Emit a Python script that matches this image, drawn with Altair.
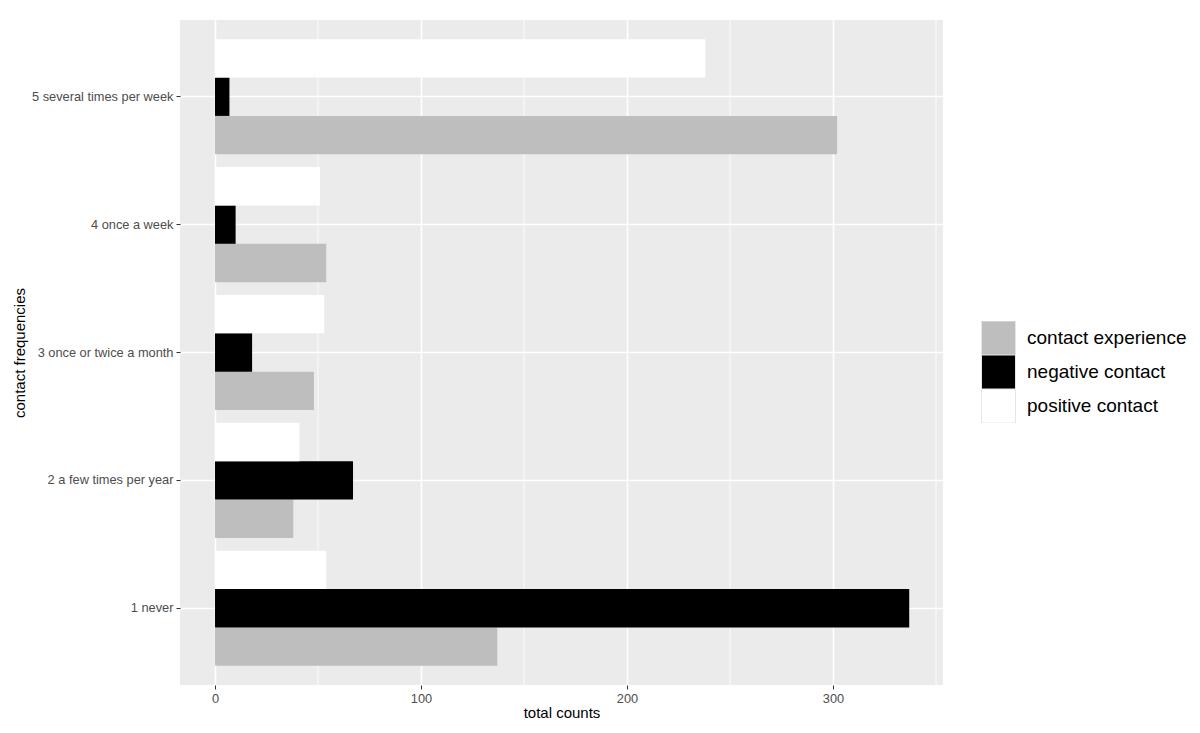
import altair as alt
import pandas as pd

categories = ["5 several times per week", "4 once a week", "3 once or twice a month",
              "2 a few times per year", "1 never"]
series = ["contact experience", "negative contact", "positive contact"]
experience = [302, 54, 48, 38, 137]
negative = [7, 10, 18, 67, 337]
positive = [238, 51, 53, 41, 54]
major_ticks = [0, 100, 200, 300]
minor_ticks = [50, 150, 250, 350]

rows = []
for i, c in enumerate(categories):
    rows.append({"freq": c, "type": "contact experience", "count": experience[i]})
    rows.append({"freq": c, "type": "negative contact", "count": negative[i]})
    rows.append({"freq": c, "type": "positive contact", "count": positive[i]})
df = pd.DataFrame(rows)
minor_df = pd.DataFrame({"v": minor_ticks})

FONT = "Liberation Sans"
xscale = alt.Scale(domain=[-17.0, 353.4], nice=False, zero=False)

minor = alt.Chart(minor_df).mark_rule(color="white", strokeWidth=0.8).encode(
    x=alt.X("v:Q", scale=xscale)
)

bars = alt.Chart(df).mark_bar().encode(
    x=alt.X("count:Q", scale=xscale, title="total counts",
            axis=alt.Axis(values=major_ticks, grid=True, gridColor="white", gridWidth=1.6,
                          domain=False, tickColor="#333333", tickSize=4, tickWidth=1,
                          labelColor="#4D4D4D", labelFontSize=12.8, labelFont=FONT,
                          labelPadding=3, titleFont=FONT, titleFontSize=15,
                          titleFontWeight="normal", titleColor="black", titlePadding=1)),
    y=alt.Y("freq:N", sort=categories, title="contact frequencies",
            scale=alt.Scale(paddingInner=0.1, paddingOuter=0.15),
            axis=alt.Axis(grid=True, gridColor="white", gridWidth=1.6, bandPosition=0.5,
                          domain=False, tickColor="#333333", tickSize=4, tickWidth=1,
                          labelColor="#4D4D4D", labelFontSize=12.8, labelFont=FONT,
                          labelPadding=3, titleFont=FONT, titleFontSize=15,
                          titleFontWeight="normal", titleColor="black", titlePadding=4)),
    yOffset=alt.YOffset("type:N", sort=["positive contact", "negative contact", "contact experience"],
                        scale=alt.Scale(paddingInner=0, paddingOuter=0)),
    color=alt.Color("type:N", title=None,
                    scale=alt.Scale(domain=series, range=["#BEBEBE", "#000000", "#FFFFFF"]),
                    legend=alt.Legend(orient="none", legendX=801, legendY=301,
                                      symbolType="square", symbolSize=1156,
                                      symbolStrokeColor="#E6E6E6", symbolStrokeWidth=1,
                                      symbolOpacity=1, clipHeight=34,
                                      labelFontSize=19, labelFont=FONT, labelColor="black",
                                      labelOffset=11, rowPadding=0)),
)

chart = alt.layer(minor, bars).properties(
    width=763, height=665,
    autosize=alt.AutoSizeParams(type="none"),
    padding={"left": 172, "top": 12, "right": 249, "bottom": 40},
).configure(background="white").configure_view(fill="#EBEBEB", stroke=None)

chart.save("out.html", embed_options={"renderer": "svg", "actions": False})
